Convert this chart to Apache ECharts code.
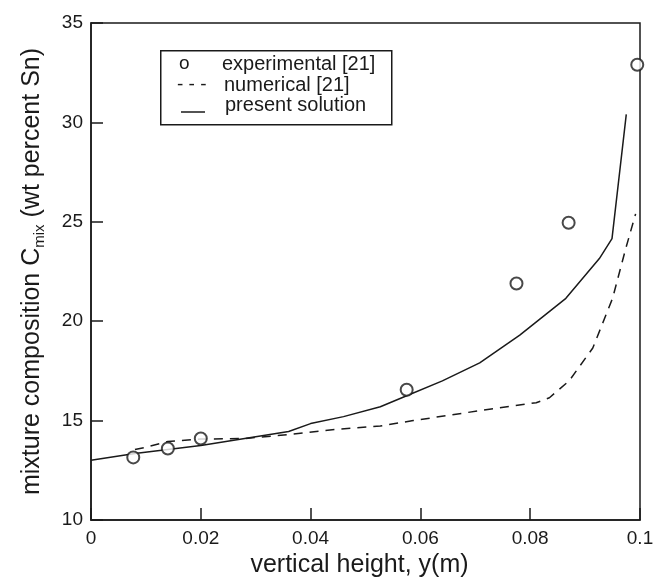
<!DOCTYPE html>
<html>
<head>
<meta charset="utf-8">
<script src="https://cdn.jsdelivr.net/npm/echarts@6/dist/echarts.min.js"></script>
<style>
  html, body { margin: 0; padding: 0; background: #fff; }
  #chart { width: 666px; height: 583px; }
</style>
</head>
<body>
<div id="chart"></div>
<script>
// experimental points [y(m), Cmix]
const experimental = [
  [0.0077, 13.15], [0.014, 13.6], [0.020, 14.1], [0.0575, 16.55],
  [0.0775, 21.9], [0.087, 24.95], [0.0995, 32.9]
];
// numerical [21] (dashed)
const numerical = [
  [0.008, 13.55], [0.0098, 13.65], [0.014, 13.95], [0.020, 14.07], [0.028, 14.1],
  [0.036, 14.3], [0.045, 14.57], [0.0527, 14.73], [0.0587, 15.0], [0.0708, 15.5],
  [0.0811, 15.9], [0.0835, 16.15], [0.0871, 17.0], [0.0914, 18.65], [0.095, 21.15],
  [0.0974, 23.65], [0.0992, 25.4]
];
// present solution (solid)
const present = [
  [0, 13.0], [0.008, 13.35], [0.014, 13.55], [0.020, 13.75], [0.028, 14.1],
  [0.036, 14.45], [0.040, 14.85], [0.046, 15.2], [0.0527, 15.7], [0.0575, 16.25],
  [0.064, 17.0], [0.0708, 17.9], [0.0781, 19.3], [0.0865, 21.15], [0.0926, 23.15],
  [0.0949, 24.15], [0.0975, 30.4]
];
const xTickLabels = ["0", "0.02", "0.04", "0.06", "0.08", "0.1"];
const yTickLabels = ["10", "15", "20", "25", "30", "35"];
const legendLabels = ["experimental [21]", "numerical [21]", "present solution"];

const ink = "#1a1a1a";
const font = "Liberation Sans";

const chart = echarts.init(document.getElementById("chart"), null, {renderer: "canvas"});

const option = {
  animation: false,
  backgroundColor: "#fff",
  grid: {
    left: 91, right: 26, top: 23, bottom: 60,
    show: true, borderColor: ink, borderWidth: 1.5, backgroundColor: "transparent"
  },
  xAxis: {
    type: "value",
    min: 0, max: 0.1, interval: 0.02,
    name: "vertical height, y(m)",
    nameLocation: "middle",
    nameGap: 33,
    nameTextStyle: {fontFamily: font, fontSize: 25, color: ink, padding: [0, 12, 0, 0]},
    axisLine: {lineStyle: {color: ink, width: 1.5}},
    axisTick: {inside: true, length: 12, lineStyle: {color: ink, width: 1.5}},
    axisLabel: {
      fontFamily: font, fontSize: 19, color: ink, margin: 9,
      formatter: (v, i) => xTickLabels[i]
    },
    splitLine: {show: false}
  },
  yAxis: {
    type: "value",
    min: 10, max: 35, interval: 5,
    name: "{a|mixture composition C}{s|mix}{a| (wt percent Sn)}",
    nameLocation: "middle",
    nameRotate: 90,
    nameGap: 44,
    nameTextStyle: {
      color: ink,
      rich: {
        a: {fontFamily: font, fontSize: 25, color: ink},
        s: {fontFamily: font, fontSize: 15, color: ink, padding: [14, 0, 0, 0]}
      }
    },
    axisLine: {lineStyle: {color: ink, width: 1.5}},
    axisTick: {inside: true, length: 12, lineStyle: {color: ink, width: 1.5}},
    axisLabel: {
      fontFamily: font, fontSize: 19, color: ink, margin: 8,
      formatter: (v, i) => yTickLabels[i]
    },
    splitLine: {show: false}
  },
  graphic: [
    {
      type: "rect", left: 160, top: 50,
      shape: {width: 231, height: 74},
      style: {fill: "#fff", stroke: ink, lineWidth: 1.5}, z: 10
    },
    {type: "text", x: 179, y: 64, z: 11,
      style: {text: "o", font: "19px " + font, fill: ink, verticalAlign: "middle"}},
    {type: "text", x: 222, y: 64, z: 11,
      style: {text: legendLabels[0], font: "20px " + font, fill: ink, verticalAlign: "middle"}},
    {type: "text", x: 177, y: 85, z: 11,
      style: {text: "- - -", font: "19px " + font, fill: ink, verticalAlign: "middle"}},
    {type: "text", x: 224, y: 85, z: 11,
      style: {text: legendLabels[1], font: "20px " + font, fill: ink, verticalAlign: "middle"}},
    {type: "line", z: 11,
      shape: {x1: 181, y1: 112, x2: 205, y2: 112},
      style: {stroke: ink, lineWidth: 1.5}},
    {type: "text", x: 225, y: 105, z: 11,
      style: {text: legendLabels[2], font: "20px " + font, fill: ink, verticalAlign: "middle"}}
  ],
  series: [
    {
      name: legendLabels[1],
      type: "line",
      data: numerical,
      showSymbol: false,
      smooth: false,
      lineStyle: {color: ink, width: 1.5, type: [9, 7]},
      z: 2
    },
    {
      name: legendLabels[2],
      type: "line",
      data: present,
      showSymbol: false,
      smooth: false,
      lineStyle: {color: ink, width: 1.5},
      z: 3
    },
    {
      name: legendLabels[0],
      type: "scatter",
      data: experimental,
      symbol: "emptyCircle",
      symbolSize: 12,
      itemStyle: {color: ink, borderColor: ink, borderWidth: 1.3},
      z: 4
    }
  ]
};

chart.setOption(option);
</script>
</body>
</html>
